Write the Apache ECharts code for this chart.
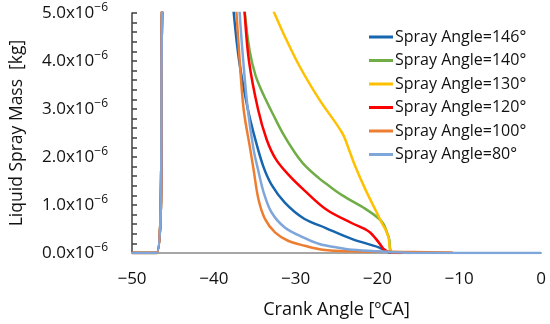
<!DOCTYPE html>
<html><head><meta charset="utf-8">
<script src="https://cdn.jsdelivr.net/npm/echarts@6/dist/echarts.min.js"></script>
<style>html,body{margin:0;padding:0;background:#fff}#c{width:550px;height:324px}</style>
</head><body><div id="c"></div>
<script>
// Values of liquid spray mass in units of 1e-6 kg; crank angle in degCA
const seriesNames = ['Spray Angle=146°','Spray Angle=140°','Spray Angle=130°','Spray Angle=120°','Spray Angle=100°','Spray Angle=80°'];
const seriesColors = ['#1565AF','#70AD47','#FFC000','#FF0000','#ED7D31','#7EA6DA'];
const xTicks = [-50,-40,-30,-20,-10,0];
const yTicks = [0,1,2,3,4,5];

const x146 = [-50,-47,-45.8,-38.0,-37.56,-36.9,-35.83,-34.9,-33.94,-32.93,-31.32,-29.0,-26.3,-23.07,-19.84,-19.05,-18.5,-18.0];
const y146 = [0,0,6.0,6.0,5.0,4.0,2.99,2.35,1.80,1.42,1.05,0.72,0.52,0.29,0.118,0.048,0.01,0];

const x140 = [-50,-47,-45.8,-36.6,-36.2,-35.6,-34.9,-33.94,-32.73,-31.52,-30.2,-28.9,-27.09,-26.09,-24.28,-21.46,-19.84,-19.24,-18.84,-18.56,-18.44,-18.2,-17.0];
const y140 = [0,0,6.0,6.0,5.0,4.2,3.7,3.30,2.88,2.48,2.12,1.83,1.55,1.42,1.20,0.92,0.72,0.60,0.43,0.29,0.083,0.01,0];

const x130 = [-50,-47,-45.8,-35.2,-32.6,-31.52,-29.5,-27.09,-24.3,-23.47,-22.7,-21.46,-20.25,-19.44,-18.9,-18.63,-18.44,-18.2,-17.0];
const y130 = [0,0,6.0,6.0,5.0,4.585,3.886,3.195,2.50,2.15,1.80,1.32,0.90,0.62,0.45,0.32,0.06,0.01,0];

const x120 = [-50,-47,-45.8,-36.6,-36.23,-35.7,-34.6,-33.54,-32.4,-30.71,-28.9,-26.2,-23.1,-21.05,-19.84,-19.24,-18.6,-17.5,-16.0];
const y120 = [0,0,6.0,6.0,5.0,4.0,3.0,2.365,1.95,1.60,1.30,0.90,0.62,0.45,0.222,0.083,0.02,0.01,0];

const x100 = [-50,-47,-45.8,-37.6,-37.23,-36.84,-36.35,-35.54,-35.14,-34.54,-33.73,-32.52,-30.92,-28.9,-26.69,-23.07,-18.0,-15.8,-10.8];
const y100 = [0,0,6.0,6.0,5.0,4.025,2.99,2.158,1.743,1.12,0.705,0.43,0.255,0.151,0.068,0.035,0.025,0.02,0.01];

const x80 = [-50,-47,-45.8,-37.2,-36.84,-36.4,-35.85,-35.14,-34.6,-33.9,-32.93,-31.32,-29.0,-27.09,-25.08,-23.07,-19.05,-17.0,-15.0,0];
const y80 = [0,0,6.0,6.0,5.0,4.0,3.0,2.158,1.743,1.26,0.844,0.533,0.32,0.187,0.118,0.068,0.027,0.01,0,0];

const xs = [x146,x140,x130,x120,x100,x80];
const ys = [y146,y140,y130,y120,y100,y80];

const FONT = '"Open Sans", sans-serif';
const chart = echarts.init(document.getElementById('c'), null, {renderer:'canvas'});
chart.setOption({
  animation:false,
  backgroundColor:'#fff',
  grid:{left:127,right:9,top:13,bottom:70,containLabel:false},
  legend:{
    orient:'vertical', left:369, top:28, padding:0, itemWidth:24, itemHeight:3, itemGap:5.5,
    icon:'rect',
    data:seriesNames,
    textStyle:{fontFamily:FONT,fontSize:16,color:'#111',lineHeight:18,padding:[0,0,0,-3]}
  },
  xAxis:{
    type:'value', min:xTicks[0], max:xTicks[xTicks.length-1], interval:10,
    name:'Crank Angle [ºCA]', nameLocation:'middle', nameGap:48,
    nameTextStyle:{fontFamily:FONT,fontSize:18,color:'#111'},
    axisLine:{show:true,onZero:false,lineStyle:{color:'#A6A6A6',width:2}},
    axisTick:{show:false},
    splitLine:{show:false},
    axisLabel:{fontFamily:FONT,fontSize:17,color:'#111',margin:18,
      formatter:v=> v<0 ? '\u2212'+Math.abs(v) : String(v)}
  },
  yAxis:{
    type:'value', min:yTicks[0], max:yTicks[yTicks.length-1], interval:1,
    name:'Liquid Spray Mass  [kg]', nameLocation:'middle', nameGap:106,
    nameTextStyle:{fontFamily:FONT,fontSize:17.5,color:'#111'},
    axisLine:{show:true,onZero:false,lineStyle:{color:'#404040',width:1.5}},
    axisTick:{show:true,inside:true,length:5,lineStyle:{color:'#404040',width:1.5}},
    minorTick:{show:true,splitNumber:5,length:5,lineStyle:{color:'#404040',width:1.5}},
    splitLine:{show:false},
    axisLabel:{margin:24,
      formatter:v=>'{a|'+v.toFixed(1)+'x10}{b|\u22126}',
      rich:{
        a:{fontFamily:FONT,fontSize:17,color:'#111',lineHeight:22},
        b:{fontFamily:FONT,fontSize:12,color:'#111',lineHeight:14,verticalAlign:'top'}
      }}
  },
  series: seriesNames.map((n,i)=>({
    name:n, type:'line', showSymbol:false, symbol:'none', clip:true,
    smooth:0.35,
    data: xs[i].map((x,j)=>[x, ys[i][j]]),
    lineStyle:{color:seriesColors[i],width:2.5},
    itemStyle:{color:seriesColors[i]},
    z:2+i
  }))
});
</script></body></html>
